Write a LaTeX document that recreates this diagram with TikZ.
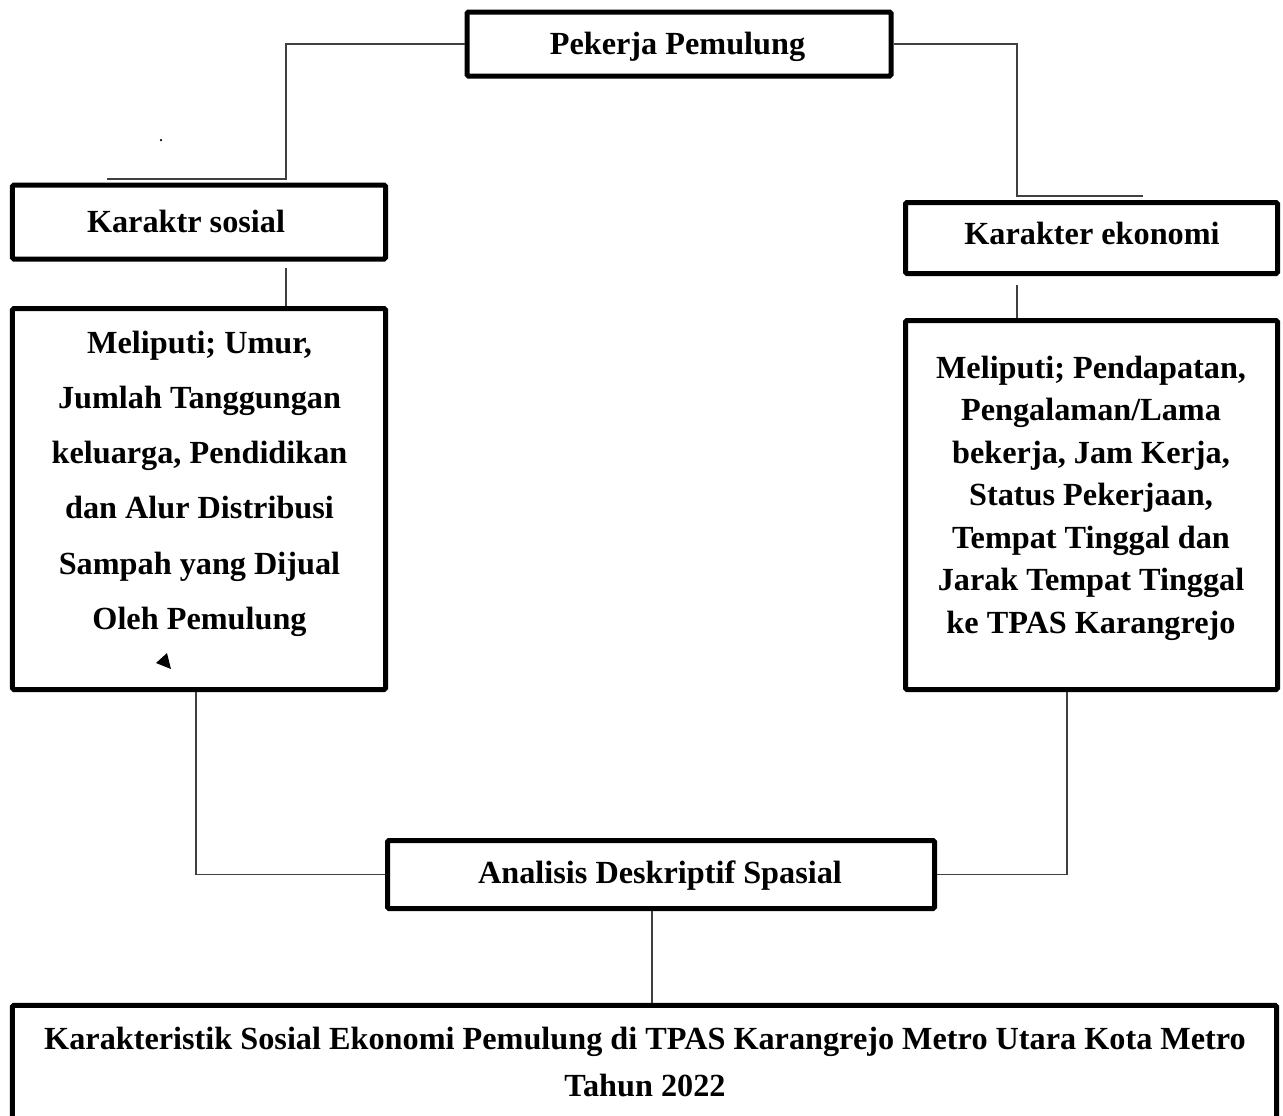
\documentclass[tikz,border=0pt]{standalone}
\usepackage{fontspec}
\setmainfont{Liberation Serif}
\usepackage{tikz}

\begin{document}
\begin{tikzpicture}[x=0.4pt,y=-0.4pt,
  box/.style={draw,line width=2pt,rounded corners=0.6pt,inner sep=0pt},
  link/.style={draw=black!75,line width=0.6pt},
  txt/.style={font=\bfseries\fontsize{12.9}{15}\selectfont,align=center,inner sep=0pt}]
  \useasboundingbox (0,0) rectangle (1283,1115);
  % kotak
  \node[box,minimum width=169.6pt,minimum height=25.6pt] (pekerja) at (679,44) {};
  \node[box,minimum width=149.2pt,minimum height=29.6pt] (sosial) at (199,222) {};
  \node[box,minimum width=149.2pt,minimum height=152.4pt] (sosialIsi) at (199,499) {};
  \node[box,minimum width=148.8pt,minimum height=28.4pt] (ekonomi) at (1091.5,238) {};
  \node[box,minimum width=148.8pt,minimum height=147.6pt] (ekonomiIsi) at (1091.5,505) {};
  \node[box,minimum width=218.8pt,minimum height=27.2pt] (analisis) at (661,874.5) {};
  \node[box,minimum width=505.6pt,minimum height=47.8pt] (hasil) at (644.5,1065) {};
  % teks
  \node[txt] (tPekerja) at (677.5,47) {Pekerja Pemulung};
  \node[txt] (tSosial) at (186,221) {Karaktr sosial};
  \node[txt] (tEkonomi) at (1092,233) {Karakter ekonomi};
  \node[txt,font=\bfseries\fontsize{12.9}{22.1}\selectfont] (tSosialIsi) at (199.5,483.5)
    {Meliputi; Umur,\\Jumlah Tanggungan\\keluarga, Pendidikan\\dan Alur Distribusi\\Sampah yang Dijual\\Oleh Pemulung};
  \node[txt,font=\bfseries\fontsize{12.9}{17}\selectfont] (tEkonomiIsi) at (1091,498)
    {Meliputi; Pendapatan,\\Pengalaman/Lama\\bekerja, Jam Kerja,\\Status Pekerjaan,\\Tempat Tinggal dan\\Jarak Tempat Tinggal\\ke TPAS Karangrejo};
  \node[txt] (tAnalisis) at (660,876) {Analisis Deskriptif Spasial};
  \node[txt,font=\bfseries\fontsize{12.9}{18.8}\selectfont] (tHasil) at (645,1062)
    {Karakteristik Sosial Ekonomi Pemulung di TPAS Karangrejo Metro Utara Kota Metro\\Tahun 2022};
  % garis
  \coordinate (ujungKiri) at (107,179);
  \coordinate (sikuKiri) at (286,179);
  \coordinate (ujungKanan) at (1143,196);
  \coordinate (sikuKanan) at (1017,196);
  \coordinate (sikuBawahKiri) at (196,874);
  \coordinate (sikuBawahKanan) at (1067,874);
  \coordinate (tengah) at (652,874);
  \draw[link] (pekerja.west) -| (sikuKiri) -- (ujungKiri);
  \draw[link] (pekerja.east) -| (sikuKanan) -- (ujungKanan);
  \draw[link,shorten <=2.6pt] (sikuKiri |- sosial.south) -- (sikuKiri |- sosialIsi.north);
  \draw[link,shorten <=3.4pt] (sikuKanan |- ekonomi.south) -- (sikuKanan |- ekonomiIsi.north);
  \draw[link] (analisis.west) -| (sikuBawahKiri |- sosialIsi.south);
  \draw[link] (analisis.east) -| (sikuBawahKanan |- ekonomiIsi.south);
  \draw[link] (tengah |- analisis.south) -- (tengah |- hasil.north);
  % tanda kecil
  \fill (161,140) circle (0.5pt);
  \fill (156,663) -- (167,653) -- (171,669) -- cycle;
\end{tikzpicture}
\end{document}
